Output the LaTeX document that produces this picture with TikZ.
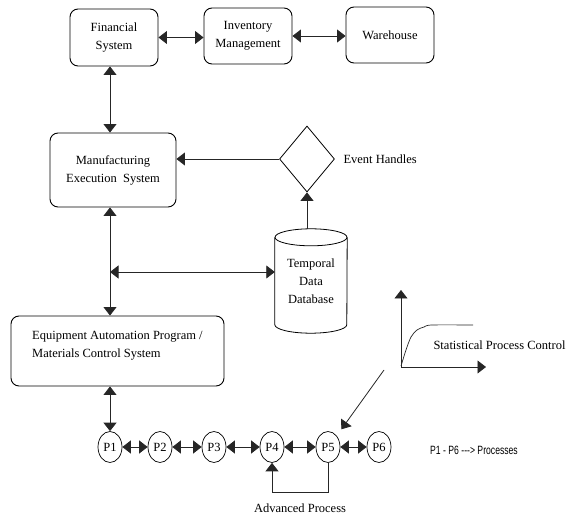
\documentclass[tikz,border=0pt]{standalone}
\usepackage{fontspec}
\setmainfont{Liberation Serif}
\newfontfamily\legendfont{Liberation Sans}
\usetikzlibrary{arrows.meta,shapes.geometric,calc}

\tikzset{
  box/.style={draw, rounded corners=8pt, line width=0.9pt, inner sep=0pt, align=center},
  link/.style={draw=black!85, line width=0.8pt},
  both/.style={link, {Triangle[length=8.5pt,width=13pt]}-{Triangle[length=8.5pt,width=13pt]}},
  tohead/.style={link, -{Triangle[length=8.5pt,width=13pt]}},
  proc/.style={draw, ellipse, line width=0.7pt, minimum width=24pt, minimum height=31pt, inner sep=0pt},
}

\begin{document}
\begin{tikzpicture}[x=1pt, y=-1pt, font=\fontsize{12.5}{18}\selectfont]
\useasboundingbox (0,0) rectangle (566,521);

% enterprise layer
\node[box, minimum width=88pt, minimum height=57pt] (fin) at (114,37.5) {Financial\\System};
\node[box, minimum width=88pt, minimum height=56pt] (inv) at (248,36) {Inventory\\Management};
\node[box, minimum width=88pt, minimum height=56pt] (wh)  at (390,35) {Warehouse};

% execution layer
\node[box, minimum width=126pt, minimum height=74pt] (mes) at (113,170) {Manufacturing\\Execution\ \ System};
\node[draw, diamond, line width=0.8pt, minimum width=55pt, minimum height=66pt, inner sep=0pt] (eh) at (307,159) {};
\node[anchor=west] (ehl) at (340,159) {Event Handles};

% temporal database (cylinder)
\node[minimum width=72pt, minimum height=104pt, inner sep=0pt, align=center] (db) at (311,281) {Temporal\\Data\\Database};
\draw[line width=0.8pt] ([yshift=-8.5pt]db.north west) -- ([yshift=8.5pt]db.south west)
  arc[start angle=180, end angle=360, x radius=36pt, y radius=8.5pt] -- ([yshift=-8.5pt]db.north east);
\draw[line width=0.8pt] ([yshift=-8.5pt]db.north) ellipse[x radius=36pt, y radius=8.5pt];

% equipment layer
\node[box, minimum width=213pt, minimum height=70pt] (eap) at (117.5,351) {};
\node[anchor=west, align=left, inner sep=0pt] (eapt) at (32,346) {Equipment Automation Program /\\Materials Control System};

% processes
\node[proc] (p1) at (110,447) {P1};
\node[proc] (p2) at (160,447) {P2};
\node[proc] (p3) at (214,447) {P3};
\node[proc] (p4) at (272,447) {P4};
\node[proc] (p5) at (328,447) {P5};
\node[proc] (p6) at (379,447) {P6};
\node[anchor=west, inner sep=0pt] (legend) at (430,450)
  {\legendfont\fontsize{12}{14}\selectfont\scalebox{0.72}[1]{P1 - P6 -{}-{}-> Processes}};
\node[align=center, inner sep=0pt] (apc) at (300,517) {Advanced Process\\Control};

% statistical process control chart
\coordinate (orig) at (401,367);
\coordinate (ytip) at (401,290);
\coordinate (xtip) at (486,367);
\draw[tohead] (orig) -- (ytip);
\draw[tohead] (orig) -- (xtip);
\draw[link, line width=0.7pt] plot[smooth] coordinates {(401,366) (406,350) (411,337) (417,330) (424,327) (432,325) (473,325)};
\node[anchor=west] (spc) at (430,345) {Statistical Process Control};
\coordinate (spcout) at (384,370);

% connectors
\coordinate (trunk) at (110,0);
\coordinate (tap) at (110,272);
\draw[both] (fin.east) -- (fin.east -| inv.west);
\draw[both] (inv.east) -- (inv.east -| wh.west);
\draw[both] (fin.south -| trunk) -- (mes.north -| trunk);
\draw[tohead] (eh.west) -- (eh.west -| mes.east);
\draw[tohead] (eh.south |- db.north) -- (eh.south);
\draw[both] (mes.south -| trunk) -- (eap.north -| trunk);
\draw[both] (tap) -- (tap -| db.west);
\draw[both] (eap.south -| trunk) -- (p1.north);
\draw[both] (p1) -- (p2);
\draw[both] (p2) -- (p3);
\draw[both] (p3) -- (p4);
\draw[both] (p4) -- (p5);
\draw[both] (p5) -- (p6);
\draw[tohead] (p5.south) -- ++(0,30) -| (p4.south);
\draw[tohead, shorten >=8pt] (spcout) -- (p5.north east);
\end{tikzpicture}
\end{document}
